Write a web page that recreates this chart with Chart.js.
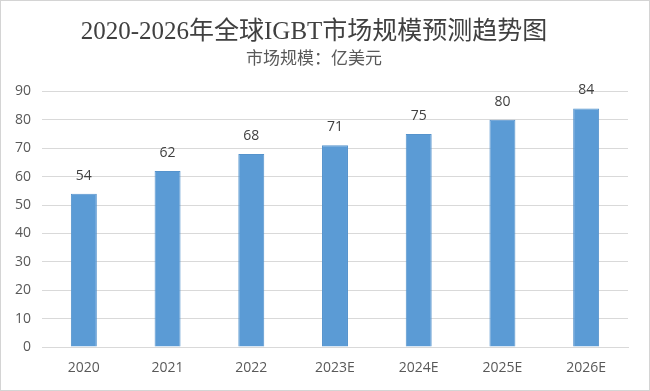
<!DOCTYPE html>
<html>
<head>
<meta charset="utf-8">
<script src="https://cdn.jsdelivr.net/npm/chart.js@4/dist/chart.umd.min.js"></script>
<style>
  html, body { margin: 0; padding: 0; background: #fff; }
  #wrap { width: 650px; height: 391px; }
</style>
</head>
<body>
<div id="wrap"><canvas id="c" width="650" height="391"></canvas></div>
<script>
const years = ["2020", "2021", "2022", "2023E", "2024E", "2025E", "2026E"];
const marketSize = [54, 62, 68, 71, 75, 80, 84];
const titleText = "2020-2026年全球IGBT市场规模预测趋势图";
const subtitleText = "市场规模：亿美元";

// border around the whole picture, like the source image
const frame = {
  id: "frame",
  beforeDraw(chart) {
    const ctx = chart.ctx;
    ctx.save();
    ctx.fillStyle = "#fff";
    ctx.fillRect(0, 0, chart.width, chart.height);
    ctx.strokeStyle = "#d4d4d4";
    ctx.lineWidth = 1;
    ctx.strokeRect(0.5, 0.5, chart.width - 1, chart.height - 1);
    ctx.restore();
  }
};

// value labels above each bar
const valueLabels = {
  id: "valueLabels",
  afterDatasetsDraw(chart) {
    const ctx = chart.ctx;
    const meta = chart.getDatasetMeta(0);
    ctx.save();
    ctx.font = "14px 'Open Sans', sans-serif";
    ctx.fillStyle = "#404040";
    ctx.textAlign = "center";
    ctx.textBaseline = "middle";
    meta.data.forEach((bar, i) => {
      ctx.fillText(marketSize[i], bar.x, bar.y - 18);
    });
    ctx.restore();
  }
};

new Chart(document.getElementById("c").getContext("2d"), {
  type: "bar",
  data: {
    labels: years,
    datasets: [{
      data: marketSize,
      backgroundColor: "#5b9bd5",
      borderColor: "#5593cc",
      borderWidth: 1,
      barPercentage: 0.31,
      categoryPercentage: 1
    }]
  },
  options: {
    responsive: false,
    animation: false,
    layout: { padding: { left: 0, right: 22, top: 0, bottom: 0 } },
    plugins: {
      legend: { display: false },
      tooltip: { enabled: false },
      title: {
        display: true,
        text: titleText,
        color: "#404040",
        font: { family: "'Liberation Serif', 'Noto Sans CJK SC', serif", size: 25, weight: "normal" },
        padding: { top: 17, bottom: 0 }
      },
      subtitle: {
        display: true,
        text: subtitleText,
        color: "#595959",
        font: { family: "'Noto Sans CJK SC', sans-serif", size: 17, weight: "normal" },
        padding: { top: 0, bottom: 24 }
      }
    },
    scales: {
      x: {
        grid: { display: false, drawTicks: false },
        border: { display: true, color: "#d9d9d9", width: 1 },
        ticks: {
          color: "#595959",
          font: { family: "'Open Sans', sans-serif", size: 14 },
          padding: 13
        },
        afterFit(scale) { scale.height = 44; }
      },
      y: {
        min: 0,
        max: 90,
        ticks: {
          stepSize: 10,
          color: "#595959",
          font: { family: "'Open Sans', sans-serif", size: 14 },
          padding: 11
        },
        grid: { color: "#d9d9d9", drawTicks: false },
        border: { display: false },
        afterFit(scale) { scale.width = 42; }
      }
    }
  },
  plugins: [frame, valueLabels]
});
</script>
</body>
</html>
